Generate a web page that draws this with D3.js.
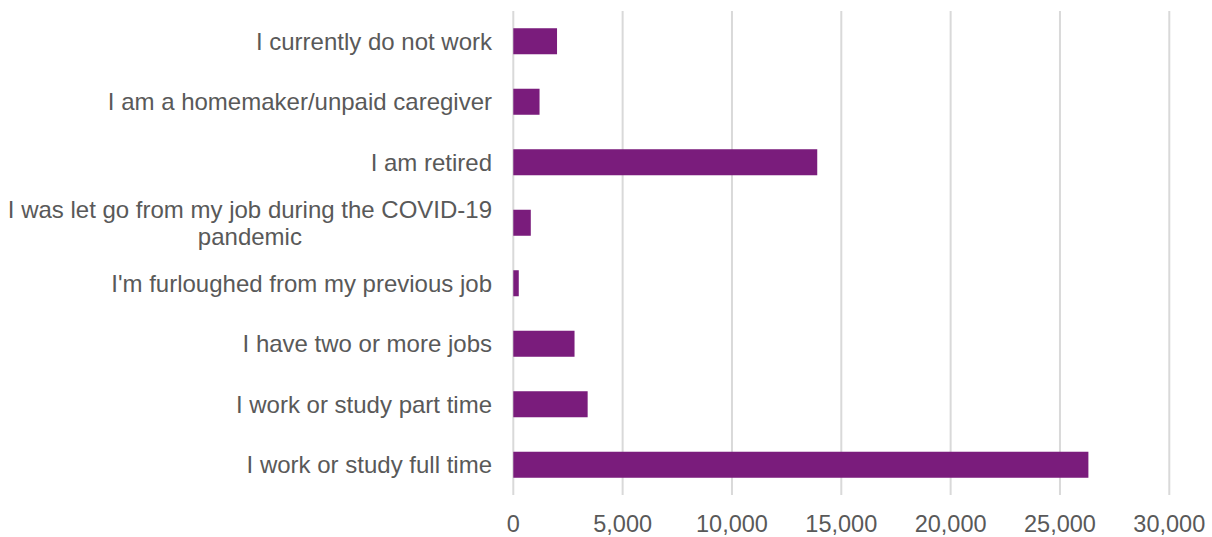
<!DOCTYPE html>
<html><head><meta charset="utf-8">
<script src="https://cdn.jsdelivr.net/npm/d3@7"></script>
<style>body{margin:0;background:#fff}svg{display:block}text{font-family:"Liberation Sans",Arial,sans-serif;fill:#595959}</style>
</head><body><svg id="c" width="1212" height="537"></svg>
<script>
const categories = ["I currently do not work","I am a homemaker/unpaid caregiver","I am retired","I was let go from my job during the COVID-19 pandemic","I'm furloughed from my previous job","I have two or more jobs","I work or study part time","I work or study full time"];
const values = [2000,1200,13900,800,250,2800,3400,26300];
const tickValues = [0,5000,10000,15000,20000,25000,30000];
const labelLines = [["I currently do not work"],["I am a homemaker/unpaid caregiver"],["I am retired"],["I was let go from my job during the COVID-19","pandemic"],["I'm furloughed from my previous job"],["I have two or more jobs"],["I work or study part time"],["I work or study full time"]];

const svg = d3.select("#c");
const x = d3.scaleLinear().domain([0,30000]).range([513.3,1169.3]);
const y = d3.scaleBand().domain(categories).range([11,495]).paddingInner(0.57).paddingOuter(0.285);
const fmt = d3.format(",");

svg.append("g").selectAll("line").data(tickValues).join("line")
  .attr("x1",d=>x(d)).attr("x2",d=>x(d)).attr("y1",11).attr("y2",495)
  .attr("stroke","#d9d9d9").attr("stroke-width",2);

svg.append("g").selectAll("rect").data(values).join("rect")
  .attr("x",x(0)).attr("y",(d,i)=>y(categories[i]))
  .attr("width",d=>x(d)-x(0)).attr("height",y.bandwidth())
  .attr("fill","#7a1c7c");

svg.append("g").selectAll("text").data(tickValues).join("text")
  .attr("x",d=>x(d)).attr("y",524).attr("dy","0.35em").attr("text-anchor","middle")
  .style("font-size","23.5px").text(d=>fmt(d));

labelLines.forEach((lines,i)=>{
  const cy = y(categories[i]) + y.bandwidth()/2;
  const g = svg.append("g");
  const lh = 27;
  const t0 = (lines.length-1)*lh/2;
  const texts = lines.map((l,j)=>g.append("text").attr("y",cy - t0 + j*lh).attr("dy","0.35em").style("font-size","24px").text(l));
  const widths = texts.map(t=>t.node().getComputedTextLength());
  const maxW = Math.max(...widths);
  const right = 492;
  texts.forEach(t=>t.attr("x",right - maxW/2).attr("text-anchor","middle"));
});
</script></body></html>
